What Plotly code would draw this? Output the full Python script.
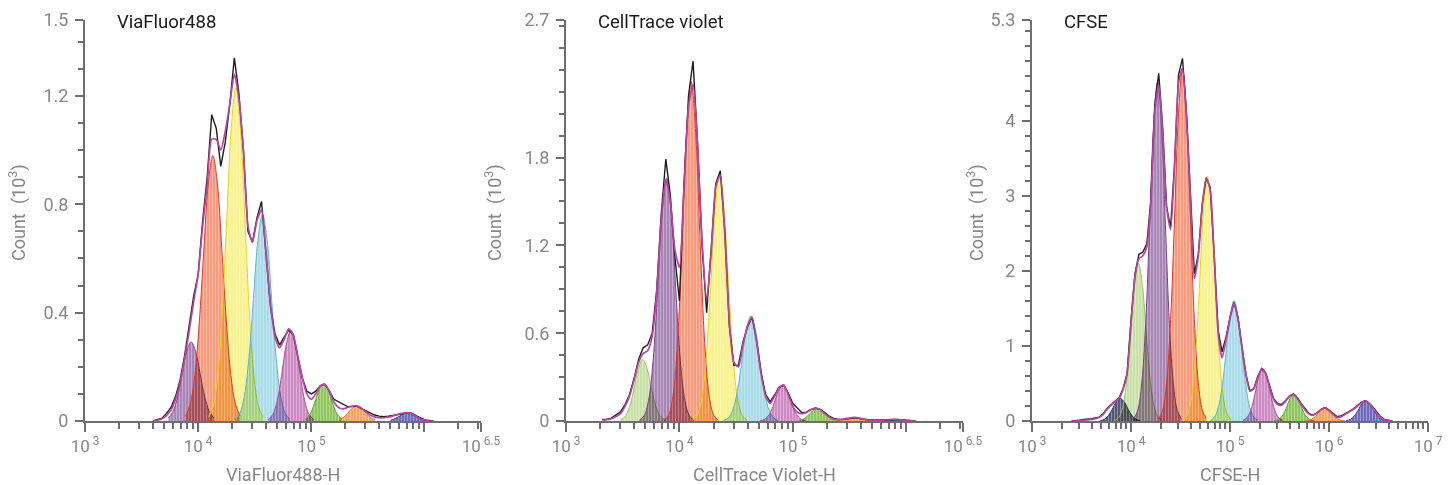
import numpy as np
import plotly.graph_objects as go

# bin width of the histograms, in log10 units
STEP = 0.04

# ---- ViaFluor488 ----
via_start = 3.60
via_raw = [0.0, 0.005, 0.01, 0.028, 0.05, 0.09, 0.15, 0.24, 0.35, 0.46,
           0.54, 0.74, 0.90, 1.13, 1.08, 0.94, 1.03, 1.17, 1.34, 1.21,
           1.00, 0.70, 0.66, 0.75, 0.81, 0.61, 0.42, 0.32, 0.28, 0.31,
           0.335, 0.32, 0.24, 0.16, 0.11, 0.10, 0.11, 0.13, 0.135, 0.11,
           0.08, 0.07, 0.06, 0.053, 0.053, 0.055, 0.047, 0.038, 0.031, 0.022,
           0.018, 0.016, 0.018, 0.02, 0.022, 0.026, 0.031, 0.028, 0.018, 0.01,
           0.004, 0.002, 0.0]
via_fit = [0.0, 0.003, 0.008, 0.02, 0.04, 0.08, 0.14, 0.23, 0.33, 0.44,
           0.54, 0.72, 0.87, 1.04, 1.04, 1.00, 1.07, 1.17, 1.28, 1.19,
           1.00, 0.72, 0.66, 0.74, 0.78, 0.62, 0.43, 0.31, 0.27, 0.30,
           0.34, 0.32, 0.24, 0.16, 0.10, 0.08, 0.10, 0.13, 0.135, 0.11,
           0.07, 0.05, 0.045, 0.05, 0.055, 0.056, 0.048, 0.035, 0.022, 0.015,
           0.012, 0.012, 0.014, 0.018, 0.024, 0.028, 0.031, 0.028, 0.018, 0.008,
           0.003, 0.0, 0.0]
via_gen = [2, 3, 4, 5, 6, 7, 8, 9]
via_peak_start = [3.738, 3.89, 4.093, 4.329, 4.62, 4.949, 5.244, 5.701]
via_peaks = [
    [0.011, 0.036, 0.089, 0.173, 0.256, 0.292, 0.256, 0.173, 0.089, 0.036, 0.011],
    [0.018, 0.062, 0.167, 0.362, 0.629, 0.877, 0.98, 0.877, 0.629, 0.362, 0.167, 0.062, 0.018],
    [0.014, 0.054, 0.166, 0.399, 0.746, 1.085, 1.23, 1.085, 0.746, 0.399, 0.166, 0.054, 0.014],
    [0.007, 0.028, 0.093, 0.234, 0.452, 0.67, 0.764, 0.67, 0.452, 0.234, 0.093, 0.028, 0.007],
    [0.006, 0.024, 0.077, 0.175, 0.284, 0.335, 0.284, 0.175, 0.077, 0.024, 0.006],
    [0.007, 0.025, 0.065, 0.115, 0.139, 0.115, 0.065, 0.025, 0.007],
    [0.004, 0.013, 0.029, 0.048, 0.056, 0.048, 0.029, 0.013, 0.004],
    [0.003, 0.009, 0.018, 0.027, 0.031, 0.027, 0.018, 0.009, 0.003],
]

# ---- CellTrace violet ----
ctv_start = 3.32
ctv_raw = [0.01, 0.012, 0.02, 0.04, 0.063, 0.11, 0.18, 0.29, 0.42, 0.50,
           0.52, 0.60, 0.90, 1.42, 1.79, 1.54, 1.12, 0.82, 1.62, 2.22,
           2.46, 1.90, 1.19, 0.74, 1.17, 1.62, 1.71, 1.30, 0.65, 0.38,
           0.38, 0.54, 0.64, 0.71, 0.55, 0.33, 0.18, 0.13, 0.18, 0.23,
           0.245, 0.19, 0.12, 0.086, 0.057, 0.061, 0.08, 0.089, 0.08, 0.057,
           0.034, 0.018, 0.011, 0.011, 0.013, 0.02, 0.022, 0.015, 0.009, 0.007,
           0.007, 0.007, 0.008, 0.009, 0.011, 0.011, 0.009, 0.005, 0.003, 0.0]
ctv_fit = [0.005, 0.01, 0.015, 0.03, 0.05, 0.10, 0.17, 0.28, 0.40, 0.46,
           0.48, 0.58, 0.88, 1.38, 1.65, 1.50, 1.17, 1.05, 1.58, 2.15,
           2.30, 1.88, 1.22, 0.83, 1.15, 1.60, 1.68, 1.27, 0.68, 0.40,
           0.37, 0.52, 0.65, 0.71, 0.54, 0.32, 0.17, 0.12, 0.17, 0.23,
           0.245, 0.18, 0.10, 0.06, 0.05, 0.058, 0.077, 0.086, 0.078, 0.05,
           0.028, 0.014, 0.01, 0.012, 0.018, 0.023, 0.024, 0.017, 0.01, 0.005,
           0.004, 0.005, 0.007, 0.009, 0.011, 0.011, 0.008, 0.004, 0.002, 0.0]
ctv_gen = [1, 2, 3, 4, 5, 6, 7, 8, 9]
ctv_peak_start = [3.477, 3.648, 3.863, 4.115, 4.39, 4.712, 5.058, 5.382, 5.767]
ctv_peaks = [
    [0.006, 0.026, 0.089, 0.21, 0.353, 0.42, 0.353, 0.21, 0.089, 0.026, 0.006],
    [0.006, 0.035, 0.141, 0.413, 0.894, 1.421, 1.658, 1.421, 0.894, 0.413, 0.141, 0.035, 0.006],
    [0.006, 0.039, 0.169, 0.534, 1.209, 1.97, 2.32, 1.97, 1.209, 0.534, 0.169, 0.039, 0.006],
    [0.007, 0.035, 0.144, 0.421, 0.911, 1.448, 1.69, 1.448, 0.911, 0.421, 0.144, 0.035, 0.007],
    [0.004, 0.021, 0.074, 0.2, 0.406, 0.623, 0.718, 0.623, 0.406, 0.2, 0.074, 0.021, 0.004],
    [0.002, 0.012, 0.045, 0.115, 0.203, 0.246, 0.203, 0.115, 0.045, 0.012, 0.002],
    [0.004, 0.016, 0.04, 0.071, 0.086, 0.071, 0.04, 0.016, 0.004],
    [0.001, 0.005, 0.012, 0.021, 0.025, 0.021, 0.012, 0.005, 0.001],
    [0.001, 0.002, 0.005, 0.009, 0.011, 0.009, 0.005, 0.002, 0.001],
]

# ---- CFSE ----
cfse_start = 3.40
cfse_raw = [0.0, 0.0, 0.01, 0.02, 0.02, 0.03, 0.04, 0.05, 0.10, 0.17,
            0.22, 0.27, 0.31, 0.43, 0.63, 1.34, 1.96, 2.22, 2.25, 2.36,
            2.93, 4.21, 4.63, 3.90, 2.84, 2.58, 3.42, 4.61, 4.83, 4.12,
            2.97, 1.96, 2.22, 2.89, 3.24, 3.11, 2.22, 1.21, 0.92, 1.12,
            1.38, 1.58, 1.38, 0.99, 0.63, 0.40, 0.43, 0.59, 0.70, 0.64,
            0.46, 0.30, 0.23, 0.22, 0.27, 0.33, 0.36, 0.31, 0.23, 0.155,
            0.093, 0.08, 0.11, 0.155, 0.18, 0.146, 0.10, 0.058, 0.066, 0.093,
            0.124, 0.155, 0.20, 0.243, 0.27, 0.243, 0.19, 0.124, 0.058, 0.02,
            0.01, 0.0]
cfse_fit = [0.0, 0.0, 0.005, 0.01, 0.015, 0.02, 0.03, 0.05, 0.09, 0.16,
            0.21, 0.26, 0.30, 0.42, 0.62, 1.30, 1.92, 2.16, 2.20, 2.32,
            2.90, 4.10, 4.48, 3.85, 2.84, 2.55, 3.40, 4.50, 4.70, 4.05,
            2.95, 1.90, 2.20, 2.88, 3.23, 3.08, 2.20, 1.18, 0.84, 1.08,
            1.36, 1.57, 1.36, 0.98, 0.62, 0.40, 0.43, 0.58, 0.69, 0.63,
            0.45, 0.29, 0.22, 0.21, 0.26, 0.33, 0.355, 0.30, 0.22, 0.145,
            0.09, 0.08, 0.11, 0.15, 0.175, 0.14, 0.09, 0.05, 0.055, 0.085,
            0.12, 0.15, 0.19, 0.235, 0.265, 0.24, 0.18, 0.11, 0.05, 0.015,
            0.005, 0.0]
cfse_gen = [0, 1, 2, 3, 4, 5, 6, 7, 8, 9]
cfse_peak_start = [3.691, 3.836, 4.028, 4.28, 4.532, 4.801, 5.131, 5.447, 5.76, 6.173]
cfse_peaks = [
    [0.005, 0.022, 0.069, 0.156, 0.255, 0.30, 0.255, 0.156, 0.069, 0.022, 0.005],
    [0.008, 0.044, 0.179, 0.523, 1.132, 1.80, 2.10, 1.80, 1.132, 0.523, 0.179, 0.044, 0.008],
    [0.031, 0.14, 0.493, 1.297, 2.599, 3.937, 4.52, 3.937, 2.599, 1.297, 0.493, 0.14, 0.031],
    [0.032, 0.146, 0.512, 1.349, 2.703, 4.094, 4.70, 4.094, 2.703, 1.349, 0.512, 0.146, 0.032],
    [0.017, 0.085, 0.315, 0.874, 1.819, 2.817, 3.26, 2.817, 1.819, 0.874, 0.315, 0.085, 0.017],
    [0.011, 0.05, 0.175, 0.461, 0.923, 1.398, 1.605, 1.398, 0.923, 0.461, 0.175, 0.05, 0.011],
    [0.009, 0.044, 0.148, 0.35, 0.589, 0.70, 0.589, 0.35, 0.148, 0.044, 0.009],
    [0.003, 0.017, 0.065, 0.168, 0.296, 0.358, 0.296, 0.168, 0.065, 0.017, 0.003],
    [0.002, 0.009, 0.034, 0.086, 0.15, 0.18, 0.15, 0.086, 0.034, 0.009, 0.002],
    [0.005, 0.02, 0.062, 0.141, 0.229, 0.27, 0.229, 0.141, 0.062, 0.02, 0.005],
]

# y-axis labels per panel (top value is the axis maximum)
via_yticks = [0, 0.4, 0.8, 1.2, 1.48]
via_ylabels = ["0", "0.4", "0.8", "1.2", "1.5"]
ctv_yticks = [0, 0.6, 1.2, 1.8, 2.74]
ctv_ylabels = ["0", "0.6", "1.2", "1.8", "2.7"]
cfse_yticks = [0, 1, 2, 3, 4, 5.34]
cfse_ylabels = ["0", "1", "2", "3", "4", "5.3"]

# generation colours: fill, outline
GEN_FILL = ["#57577c", "#c9e0a7", "#a786b6", "#f89a7b", "#f8f28f",
            "#a9dbe8", "#cd8bc3", "#8fc45f", "#f6a45f", "#6d6dbb"]
GEN_LINE = ["#2e2e56", "#98c06a", "#7e4087", "#e3352f", "#e2d420",
            "#5fb1cb", "#a8479c", "#5e9d38", "#e26f2a", "#3c3c98"]

AXIS = "#6d6e71"
LABEL = "#86878a"
FONT = "Roboto"

W, H = 1450, 485
Y_DOM = [64 / H, 465 / H]

panels = [
    dict(title="ViaFluor488", xtitle="ViaFluor488-H", start=via_start, raw=via_raw, fit=via_fit,
         gen=via_gen, pstart=via_peak_start, peaks=via_peaks, yticks=via_yticks,
         ylabels=via_ylabels, yminor=0.1, xmax=6.5, left=85, right=481, ytitle_off=68),
    dict(title="CellTrace violet", xtitle="CellTrace Violet-H", start=ctv_start, raw=ctv_raw, fit=ctv_fit,
         gen=ctv_gen, pstart=ctv_peak_start, peaks=ctv_peaks, yticks=ctv_yticks,
         ylabels=ctv_ylabels, yminor=0.15, xmax=6.5, left=566, right=963, ytitle_off=73),
    dict(title="CFSE", xtitle="CFSE-H", start=cfse_start, raw=cfse_raw, fit=cfse_fit,
         gen=cfse_gen, pstart=cfse_peak_start, peaks=cfse_peaks, yticks=cfse_yticks,
         ylabels=cfse_ylabels, yminor=0.2, xmax=7, left=1032, right=1428, ytitle_off=57),
]


def bins(start, n):
    return 10 ** (start + STEP * np.arange(n))


fig = go.Figure()
annotations = []

for i, p in enumerate(panels, start=1):
    xa, ya = ("x", "y") if i == 1 else (f"x{i}", f"y{i}")

    # fitted generation peaks
    for g, s, vals in zip(p["gen"], p["pstart"], p["peaks"]):
        fig.add_trace(go.Scatter(
            x=bins(s, len(vals)), y=vals, xaxis=xa, yaxis=ya,
            mode="lines", line=dict(color=GEN_LINE[g], width=1, shape="spline"),
            fill="tozeroy", fillcolor=GEN_FILL[g],
            fillpattern=dict(shape="|", bgcolor=GEN_FILL[g], fgcolor="white",
                             fgopacity=0.35, size=3, solidity=0.3),
            hoverinfo="skip", showlegend=False,
        ))

    # raw histogram and model total
    fig.add_trace(go.Scatter(
        x=bins(p["start"], len(p["raw"])), y=p["raw"], xaxis=xa, yaxis=ya,
        mode="lines", line=dict(color="#1e1e1e", width=1.4),
        hoverinfo="skip", showlegend=False,
    ))
    fig.add_trace(go.Scatter(
        x=bins(p["start"], len(p["fit"])), y=p["fit"], xaxis=xa, yaxis=ya,
        mode="lines", line=dict(color="#b8449f", width=1.7, shape="spline", smoothing=0.6),
        hoverinfo="skip", showlegend=False,
    ))

    # axes
    decades = list(range(3, int(np.floor(p["xmax"])) + 1))
    xtv = [10.0 ** d for d in decades]
    xtt = [f"10<sup> {d}</sup>" for d in decades]
    if p["xmax"] != decades[-1]:
        xtt[-1] = ""
        xtv.append(10 ** p["xmax"])
        xtt.append(f"10<sup> {p['xmax']}</sup>")
    xminor = [m * 10.0 ** d for d in decades for m in range(2, 10) if m * 10.0 ** d < 10 ** p["xmax"]]

    ymax = p["yticks"][-1]
    yminor = [round(k * p["yminor"], 2) for k in range(1, int(ymax / p["yminor"]) + 1)]
    yminor = [v for v in yminor if all(abs(v - t) > 1e-6 for t in p["yticks"]) and v < ymax - 0.02]

    xdom = [p["left"] / W, p["right"] / W]
    axis_common = dict(showline=True, linecolor=AXIS, linewidth=2, ticks="outside",
                       tickcolor=AXIS, tickwidth=1.5, showgrid=False, zeroline=False,
                       automargin=False)
    fig.update_layout(**{
        ("xaxis" if i == 1 else f"xaxis{i}"): dict(
            type="log", range=[3, p["xmax"]], domain=xdom, anchor=ya,
            tickmode="array", tickvals=xtv, ticktext=xtt, ticklen=9,
            tickfont=dict(family=FONT, size=17, color=LABEL),
            minor=dict(tickmode="array", tickvals=xminor, ticklen=6, tickwidth=1.5,
                       tickcolor=AXIS, ticks="outside"),
            **axis_common),
        ("yaxis" if i == 1 else f"yaxis{i}"): dict(
            range=[0, ymax], domain=Y_DOM, anchor=xa,
            tickmode="array", tickvals=p["yticks"], ticktext=p["ylabels"], ticklen=8,
            ticklabelstandoff=3, tickfont=dict(family=FONT, size=18, color=LABEL),
            minor=dict(tickmode="array", tickvals=yminor, ticklen=5, tickwidth=1.5,
                       tickcolor=AXIS, ticks="outside"),
            **axis_common),
    })

    annotations += [
        dict(text=p["title"], x=(p["left"] + 30) / W, y=(H - 22) / H, xref="paper", yref="paper",
             xanchor="left", yanchor="middle", showarrow=False,
             font=dict(family=FONT, size=18.5, color="#1a1a1a")),
        dict(text=p["xtitle"], x=(p["left"] + p["right"]) / 2 / W, y=(H - 474) / H,
             xref="paper", yref="paper", xanchor="center", yanchor="middle", showarrow=False,
             font=dict(family=FONT, size=18, color=LABEL)),
        dict(text="Count\u2002(10<sup>3</sup>)", x=(p["left"] - p["ytitle_off"]) / W, y=(H - 213) / H,
             xref="paper", yref="paper", xanchor="center", yanchor="middle", textangle=-90,
             showarrow=False, font=dict(family=FONT, size=18, color=LABEL)),
    ]

fig.update_layout(
    width=W, height=H, margin=dict(l=0, r=0, t=0, b=0, autoexpand=False),
    paper_bgcolor="white", plot_bgcolor="white",
    annotations=annotations, showlegend=False,
)

# page flush with the window; overlapping peaks darken each other like in the original
PAGE_JS = """
document.body.style.margin = '0';
var gd = document.getElementById('{plot_id}');
function blendFills() {
  gd.querySelectorAll('path.js-fill').forEach(function (p) { p.style.mixBlendMode = 'multiply'; });
}
blendFills();
gd.on('plotly_afterplot', blendFills);
"""

fig.write_html("out.html", post_script=PAGE_JS, config={"displayModeBar": False})
